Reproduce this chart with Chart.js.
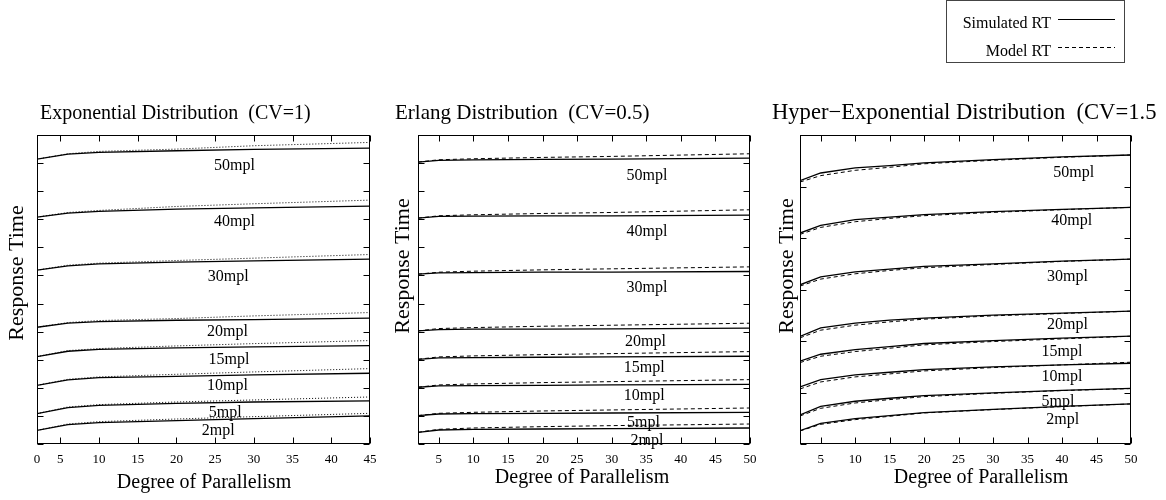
<!DOCTYPE html>
<html lang="en">
<head>
<meta charset="utf-8" />
<title>Response time vs degree of parallelism</title>
<script src="https://cdn.jsdelivr.net/npm/chart.js@4.4.0/dist/chart.umd.min.js"></script>
<style>
    body { margin: 0; background: #fff; width: 1166px; height: 500px; position: relative; overflow: hidden; }
    canvas { position: absolute; top: 0; }
    #c1 { left: 0; }
    #c2 { left: 380px; }
    #c3 { left: 760px; }
</style>
</head>
<body>
<canvas id="c1" width="380" height="500"></canvas>
<canvas id="c2" width="380" height="500"></canvas>
<canvas id="c3" width="406" height="500"></canvas>
<script>
// curve names, top to bottom
const mplLevels = ['50mpl', '40mpl', '30mpl', '20mpl', '15mpl', '10mpl', '5mpl', '2mpl'];

// Exponential (CV=1)
const expX = [2, 6, 10, 20, 30, 45];
const expSim = [
    [50.71, 51.60, 51.90, 52.20, 52.43, 52.67],
    [40.38, 41.09, 41.39, 41.81, 42.04, 42.34],
    [30.94, 31.71, 32.07, 32.36, 32.60, 32.90],
    [20.78, 21.50, 21.79, 22.03, 22.15, 22.39],
    [15.56, 16.51, 16.86, 17.10, 17.28, 17.52],
    [10.45, 11.40, 11.82, 12.05, 12.29, 12.59],
    [5.40, 6.47, 6.89, 7.24, 7.48, 7.66],
    [2.43, 3.44, 3.80, 4.16, 4.51, 4.99]
];
const expModel = [
    [50.71, 51.66, 52.08, 52.49, 53.09, 53.68],
    [40.38, 41.21, 41.57, 42.28, 42.76, 43.41],
    [30.94, 31.83, 32.19, 32.66, 33.08, 33.73],
    [20.78, 21.62, 21.97, 22.33, 22.80, 23.40],
    [15.56, 16.63, 16.98, 17.46, 17.87, 18.41],
    [10.45, 11.52, 11.94, 12.41, 12.83, 13.42],
    [5.40, 6.59, 7.01, 7.48, 7.84, 8.37],
    [2.43, 3.56, 3.98, 4.45, 4.87, 5.46]
];
const expTickValues = [2, 5, 10, 15, 20, 25, 30, 35, 40, 45];
const expTickLabels = ['0', '5', '10', '15', '20', '25', '30', '35', '40', '45'];
const expLabelX = [27.5, 27.5, 26.7, 26.6, 26.8, 26.6, 26.3, 25.4];
const expLabelY = [49.5, 39.5, 29.7, 19.9, 14.95, 10.3, 5.5, 2.3];

// Erlang (CV=0.5)
const erlX = [2, 5, 10, 20, 30, 50];
const erlSim = [
    [50.18, 50.48, 50.59, 50.65, 50.71, 50.89],
    [40.20, 40.50, 40.56, 40.62, 40.62, 40.74],
    [30.23, 30.46, 30.52, 30.58, 30.58, 30.70],
    [20.13, 20.37, 20.43, 20.43, 20.49, 20.61],
    [15.08, 15.32, 15.38, 15.44, 15.50, 15.62],
    [10.10, 10.33, 10.39, 10.45, 10.51, 10.63],
    [5.05, 5.34, 5.40, 5.46, 5.52, 5.64],
    [2.08, 2.49, 2.61, 2.67, 2.73, 2.85]
];
const erlModel = [
    [50.18, 50.59, 50.77, 51.01, 51.19, 51.66],
    [40.20, 40.62, 40.80, 41.03, 41.21, 41.69],
    [30.23, 30.58, 30.76, 31.00, 31.18, 31.53],
    [20.13, 20.55, 20.72, 20.96, 21.14, 21.50],
    [15.08, 15.50, 15.68, 15.91, 16.09, 16.45],
    [10.10, 10.51, 10.69, 10.93, 11.10, 11.46],
    [5.05, 5.46, 5.64, 5.88, 6.06, 6.41],
    [2.08, 2.61, 2.85, 3.09, 3.27, 3.56]
];
const erlTickValues = [5, 10, 15, 20, 25, 30, 35, 40, 45, 50];
const erlTickLabels = ['5', '10', '15', '20', '25', '30', '35', '40', '45', '50'];
const erlLabelX = [35.1, 35.1, 35.1, 34.9, 34.7, 34.7, 34.6, 35.1];
const erlLabelY = [47.7, 37.7, 27.8, 18.2, 13.5, 8.5, 3.7, 0.5];

// Hyper-Exponential (CV=1.5)
const hypX = [2, 5, 10, 15, 20, 30, 40, 50];
const hypSim = [
    [51.13, 52.62, 53.60, 54.05, 54.59, 55.22, 55.74, 56.12],
    [40.96, 42.45, 43.55, 44.07, 44.52, 45.11, 45.56, 45.95],
    [30.91, 32.47, 33.44, 33.96, 34.48, 34.99, 35.52, 35.90],
    [20.87, 22.55, 23.46, 24.04, 24.43, 25.02, 25.41, 25.79],
    [16.07, 17.43, 18.34, 18.92, 19.51, 20.09, 20.54, 20.93],
    [11.08, 12.51, 13.42, 13.93, 14.45, 14.97, 15.36, 15.68],
    [5.64, 7.32, 8.30, 8.88, 9.40, 9.92, 10.43, 10.82],
    [2.59, 4.02, 4.93, 5.51, 6.09, 6.74, 7.32, 7.78]
];
const hypModel = [
    [50.87, 52.11, 53.14, 53.73, 54.41, 55.09, 55.67, 56.12],
    [40.70, 42.06, 43.16, 43.81, 44.33, 44.98, 45.50, 45.95],
    [30.66, 32.02, 33.05, 33.70, 34.22, 34.86, 35.45, 35.90],
    [20.61, 22.10, 23.07, 23.72, 24.24, 24.89, 25.34, 25.79],
    [15.81, 17.04, 17.95, 18.60, 19.25, 19.90, 20.41, 20.93],
    [10.69, 12.05, 13.03, 13.61, 14.19, 14.84, 15.36, 15.88],
    [5.44, 6.93, 7.97, 8.62, 9.20, 9.85, 10.37, 10.76],
    [2.53, 3.82, 4.73, 5.38, 6.03, 6.68, 7.26, 7.78]
];
const hypTickValues = [5, 10, 15, 20, 25, 30, 35, 40, 45, 50];
const hypTickLabels = ['5', '10', '15', '20', '25', '30', '35', '40', '45', '50'];
const hypLabelX = [41.7, 41.4, 40.8, 40.8, 40.0, 40.0, 39.4, 40.1];
const hypLabelY = [52.6, 43.3, 32.4, 23.1, 17.9, 13.0, 8.2, 4.7];

const legendLabels = ['Simulated RT', 'Model RT'];

const SERIF = '"Liberation Serif", "Times New Roman", serif';

function buildDatasets(xs, sim, model, dash) {
    let sets = [];
    for (let i = 0; i < mplLevels.length; i++) {
        sets.push({
            label: mplLevels[i] + ' model',
            data: xs.map((x, j) => ({ x: x, y: model[i][j] })),
            borderColor: '#000',
            borderWidth: 1,
            borderDash: dash,
            pointRadius: 0
        });
        sets.push({
            label: mplLevels[i] + ' sim',
            data: xs.map((x, j) => ({ x: x, y: sim[i][j] })),
            borderColor: '#000',
            borderWidth: 1.3,
            pointRadius: 0
        });
    }
    return sets;
}

// frame, inward ticks, curve labels, titles
const framePlugin = {
    id: 'frame',
    afterDraw(chart, args, o) {
        const ctx = chart.ctx;
        const a = chart.chartArea;
        const sx = chart.scales.x, sy = chart.scales.y;
        ctx.save();
        ctx.strokeStyle = '#000';
        ctx.lineWidth = 1;
        ctx.setLineDash([]);
        const l = Math.round(a.left) + 0.5, r = Math.round(a.right) - 0.5;
        const t = Math.round(a.top) + 0.5, b = Math.round(a.bottom) - 0.5;
        ctx.strokeRect(l, t, r - l, b - t);
        ctx.beginPath();
        sx.ticks.forEach(tk => {
            const px = Math.round(sx.getPixelForValue(tk.value)) + 0.5;
            ctx.moveTo(px, b); ctx.lineTo(px, b - 6);
            ctx.moveTo(px, t); ctx.lineTo(px, t + 6);
        });
        sy.ticks.forEach(tk => {
            const py = Math.round(sy.getPixelForValue(tk.value)) + 0.5;
            ctx.moveTo(l, py); ctx.lineTo(l + 6, py);
            ctx.moveTo(r, py); ctx.lineTo(r - 6, py);
        });
        ctx.stroke();

        ctx.fillStyle = '#000';
        ctx.font = '16px ' + SERIF;
        ctx.textAlign = 'center';
        ctx.textBaseline = 'middle';
        for (let i = 0; i < mplLevels.length; i++) {
            ctx.fillText(mplLevels[i], sx.getPixelForValue(o.labelX[i]), sy.getPixelForValue(o.labelY[i]));
        }

        // title, cut where the original subfigure ends
        ctx.save();
        ctx.beginPath();
        ctx.rect(0, 80, o.titleClip, 50);
        ctx.clip();
        ctx.textAlign = 'left';
        ctx.textBaseline = 'alphabetic';
        ctx.font = o.titleSize + 'px ' + SERIF;
        ctx.fillText(o.title, o.titleX, 119);
        ctx.restore();

        ctx.textAlign = 'center';
        ctx.textBaseline = 'middle';
        ctx.font = '20px ' + SERIF;
        ctx.fillText('Degree of Parallelism', o.xlabelX, o.xlabelY);

        ctx.save();
        ctx.translate(o.ylabelX, o.ylabelY);
        ctx.rotate(-Math.PI / 2);
        ctx.font = '22px ' + SERIF;
        ctx.fillText('Response Time', 0, 0);
        ctx.restore();

        if (o.legend) {
            const g = o.legend;
            ctx.strokeStyle = '#444';
            ctx.strokeRect(g.x + 0.5, 0.5, g.w, g.h);
            ctx.font = '16px ' + SERIF;
            ctx.textAlign = 'right';
            ctx.textBaseline = 'alphabetic';
            ctx.fillStyle = '#000';
            ctx.fillText(legendLabels[0], g.textRight, 28);
            ctx.fillText(legendLabels[1], g.textRight, 56);
            ctx.strokeStyle = '#000';
            ctx.beginPath();
            ctx.moveTo(g.lineX0, 19.5); ctx.lineTo(g.lineX1, 19.5);
            ctx.stroke();
            ctx.setLineDash([4, 3]);
            ctx.beginPath();
            ctx.moveTo(g.lineX0, 47.5); ctx.lineTo(g.lineX1, 47.5);
            ctx.stroke();
        }
        ctx.restore();
    }
};

function makePanel(id, p) {
    return new Chart(id, {
        type: 'line',
        data: { datasets: buildDatasets(p.xs, p.sim, p.model, p.dash) },
        options: {
            responsive: false,
            animation: false,
            devicePixelRatio: 1,
            layout: { padding: { top: 135, right: p.padRight, left: 0, bottom: 0 } },
            plugins: {
                legend: { display: false },
                tooltip: { enabled: false },
                frame: p.frame
            },
            scales: {
                x: {
                    type: 'linear',
                    min: p.xMin,
                    max: p.xMax,
                    grid: { display: false, drawTicks: false },
                    border: { display: false },
                    afterBuildTicks: s => { s.ticks = p.tickValues.map(v => ({ value: v })); },
                    afterFit: s => { s.height = 56; s.paddingLeft = 0; s.paddingRight = 0; },
                    ticks: {
                        autoSkip: false,
                        maxRotation: 0,
                        padding: 8,
                        color: '#000',
                        font: { family: SERIF, size: 13 },
                        callback: v => p.tickLabels[p.tickValues.indexOf(v)]
                    }
                },
                y: {
                    type: 'linear',
                    min: 0,
                    max: p.yMax,
                    grid: { display: false, drawTicks: false },
                    border: { display: false },
                    afterFit: s => { s.width = p.yWidth; },
                    ticks: { display: false, stepSize: p.yStep }
                }
            }
        },
        plugins: [framePlugin]
    });
}

makePanel('c1', {
    xs: expX, sim: expSim, model: expModel, dash: [1, 2],
    xMin: 2, xMax: 45, yMax: 55, yStep: 5,
    tickValues: expTickValues, tickLabels: expTickLabels,
    padRight: 10, yWidth: 37,
    frame: {
        labelX: expLabelX, labelY: expLabelY,
        title: 'Exponential Distribution  (CV=1)', titleX: 40, titleSize: 20, titleClip: 380,
        xlabelX: 204, xlabelY: 483, ylabelX: 17, ylabelY: 273
    }
});

makePanel('c2', {
    xs: erlX, sim: erlSim, model: erlModel, dash: [4, 3],
    xMin: 2, xMax: 50, yMax: 55, yStep: 5,
    tickValues: erlTickValues, tickLabels: erlTickLabels,
    padRight: 10, yWidth: 38,
    frame: {
        labelX: erlLabelX, labelY: erlLabelY,
        title: 'Erlang Distribution  (CV=0.5)', titleX: 15, titleSize: 21, titleClip: 380,
        xlabelX: 202, xlabelY: 478, ylabelX: 23, ylabelY: 266
    }
});

makePanel('c3', {
    xs: hypX, sim: hypSim, model: hypModel, dash: [4, 3],
    xMin: 2, xMax: 50, yMax: 60, yStep: 10,
    tickValues: hypTickValues, tickLabels: hypTickLabels,
    padRight: 35, yWidth: 40,
    frame: {
        labelX: hypLabelX, labelY: hypLabelY,
        title: 'Hyper\u2212Exponential Distribution  (CV=1.5)', titleX: 12, titleSize: 22.6, titleClip: 397,
        xlabelX: 221, xlabelY: 478, ylabelX: 27, ylabelY: 266,
        legend: { x: 186, w: 178, h: 62, textRight: 291, lineX0: 298, lineX1: 355 }
    }
});
</script>
</body>
</html>
